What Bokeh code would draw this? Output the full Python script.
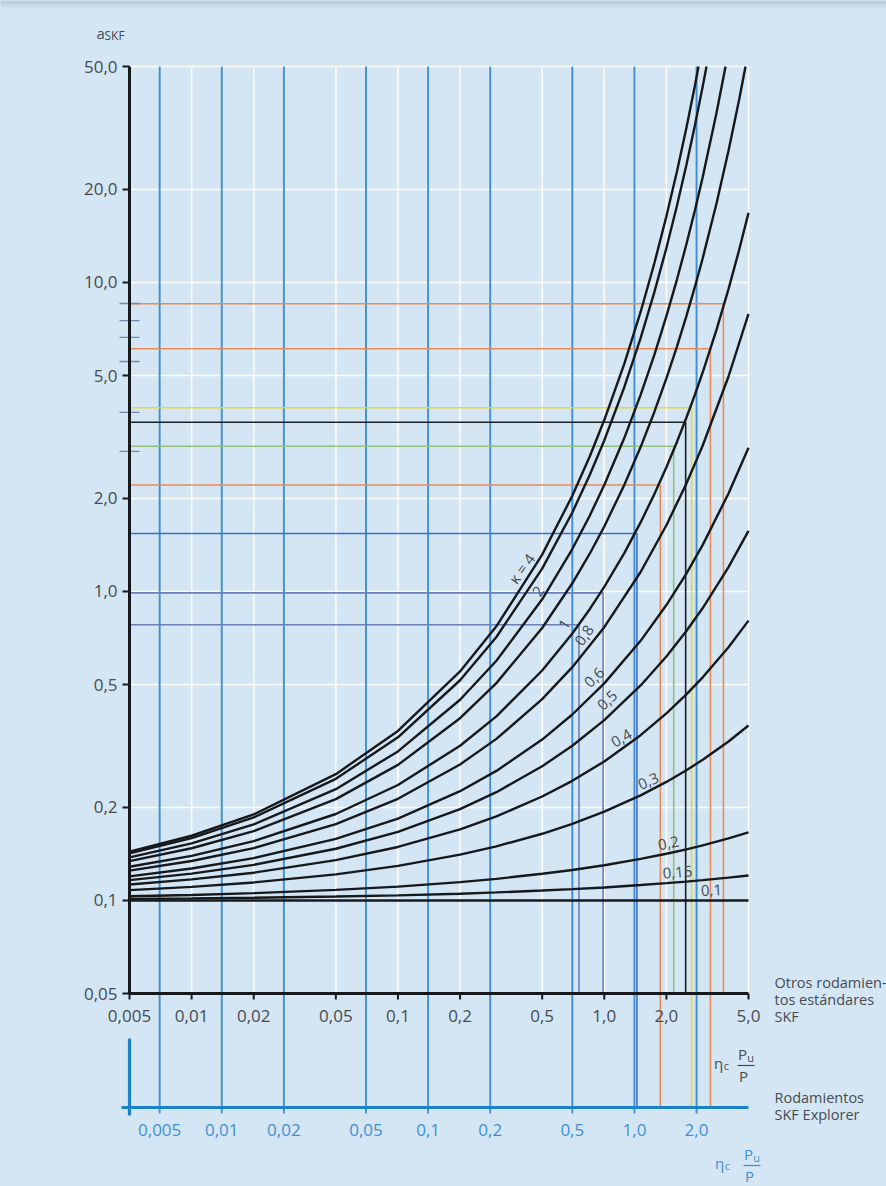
import math
from bokeh.plotting import figure
from bokeh.models import Range1d
from bokeh.embed import file_html
from bokeh.resources import INLINE
from bokeh.core.properties import value

# ---------------- data ----------------
y_ticks = [0.05, 0.1, 0.2, 0.5, 1.0, 2.0, 5.0, 10.0, 20.0, 50.0]
y_tick_labels = ["0,05", "0,1", "0,2", "0,5", "1,0", "2,0", "5,0", "10,0", "20,0", "50,0"]
x_ticks = [0.005, 0.01, 0.02, 0.05, 0.1, 0.2, 0.5, 1.0, 2.0, 5.0]
x_tick_labels = ["0,005", "0,01", "0,02", "0,05", "0,1", "0,2", "0,5", "1,0", "2,0", "5,0"]
exp_ticks = [0.005, 0.01, 0.02, 0.05, 0.1, 0.2, 0.5, 1.0, 2.0]
exp_tick_labels = ["0,005", "0,01", "0,02", "0,05", "0,1", "0,2", "0,5", "1,0", "2,0"]
exp_factor = 1.4  # SKF Explorer scale sits 1.4x to the right of the standard scale

# eta_c*Pu/P positions at which the curves were read
x_dense = [0.005, 0.01, 0.02, 0.05, 0.1, 0.2, 0.3, 0.5, 0.7, 0.85, 1.0, 1.25, 1.5, 1.75,
           2.0, 2.25, 2.5, 2.75, 3.0, 3.5, 4.0, 4.5, 5.0]
x_coarse = [0.005, 0.01, 0.02, 0.05, 0.1, 0.2, 0.3, 0.5, 0.7, 1.0, 1.5, 2.0, 2.5, 3.0, 4.0, 5.0]

# a_SKF readings, upper family (dense grid); the first four leave the chart at a_SKF = 50
a_c1 = [0.1438, 0.1620, 0.1900, 0.2563, 0.3538, 0.5511, 0.7713, 1.316, 2.041, 2.735, 3.587,
        5.450, 8.027, 11.56, 16.37, 22.87, 31.64, 43.42]
a_c2 = [0.1420, 0.1592, 0.1857, 0.2476, 0.3374, 0.5161, 0.7122, 1.186, 1.802, 2.382, 3.082,
        4.581, 6.608, 9.320, 12.93, 17.71, 24.01, 32.28, 43.12]
a_c3 = [0.1379, 0.1531, 0.1763, 0.2292, 0.3037, 0.4463, 0.5968, 0.9437, 1.372, 1.758, 2.210,
        3.137, 4.328, 5.846, 7.779, 10.22, 13.29, 17.13, 21.95, 35.44]
a_c4 = [0.1341, 0.1476, 0.1677, 0.2129, 0.2747, 0.3890, 0.5052, 0.7617, 1.063, 1.325, 1.623,
        2.211, 2.933, 3.818, 4.895, 6.201, 7.783, 9.691, 11.98, 18.04, 26.67, 38.93]
a_c5 = [0.1286, 0.1395, 0.1556, 0.1905, 0.2364, 0.3168, 0.3944, 0.5550, 0.7311, 0.8762, 1.035,
        1.331, 1.673, 2.069, 2.524, 3.048, 3.649, 4.338, 5.122, 7.042, 9.519, 12.71, 16.80]
top_exit_x = [2.862, 3.130, 3.870, 4.836]   # where c1..c4 reach a_SKF = 50

# lower family (coarse grid)
a_c6 = [0.1249, 0.1342, 0.1477, 0.1766, 0.2133, 0.2756, 0.3334, 0.4485, 0.5689, 0.7667, 1.156,
        1.638, 2.234, 2.968, 4.963, 7.909]
a_c7 = [0.1197, 0.1269, 0.1371, 0.1582, 0.1841, 0.2258, 0.2626, 0.3317, 0.3998, 0.5042, 0.6923,
        0.9037, 1.143, 1.415, 2.075, 2.920]
a_c8 = [0.1164, 0.1222, 0.1304, 0.1470, 0.1668, 0.1976, 0.2241, 0.2718, 0.3169, 0.3833, 0.4964,
        0.6160, 0.7447, 0.8838, 1.199, 1.571]
a_c9 = [0.1126, 0.1170, 0.1230, 0.1351, 0.1490, 0.1699, 0.1871, 0.2170, 0.2439, 0.2819, 0.3427,
        0.4030, 0.4644, 0.5274, 0.6604, 0.8049]
a_c10 = [0.1080, 0.1107, 0.1144, 0.1215, 0.1294, 0.1407, 0.1497, 0.1644, 0.1770, 0.1938, 0.2189,
         0.2419, 0.2639, 0.2853, 0.3270, 0.3682]
a_c11 = [0.1032, 0.1042, 0.1056, 0.1082, 0.1109, 0.1147, 0.1175, 0.1220, 0.1255, 0.1300, 0.1363,
         0.1417, 0.1464, 0.1508, 0.1588, 0.1660]
a_c12 = [0.1012, 0.1016, 0.1021, 0.1030, 0.1039, 0.1052, 0.1062, 0.1077, 0.1088, 0.1102, 0.1122,
         0.1138, 0.1151, 0.1164, 0.1186, 0.1205]
a_c13 = [0.1, 0.1, 0.1, 0.1, 0.1, 0.1, 0.1, 0.1, 0.1, 0.1, 0.1, 0.1, 0.1, 0.1, 0.1, 0.1]

curve_labels = ["\u03ba = 4", "2", "1", "0,8", "0,6", "0,5", "0,4", "0,3", "0,2", "0,15", "0,1"]

# example readings: horizontal from the a_SKF axis, then down to one of the two scales
ref_a = [8.53, 6.10, 3.93, 3.53, 2.95, 2.21, 1.54, 0.99, 0.78]
ref_x = [3.78, 3.27, 2.65, 2.48, 2.17, 1.87, 1.44, 0.987, 0.754]
ref_scale = ["std", "exp", "exp", "std", "std", "exp", "exp", "std", "std"]
axis_marks = [8.55, 7.53, 6.64, 5.55, 3.80, 2.84]

# ---------------- styles / layout ----------------
ref_colors = ["#e98b55", "#e98b55", "#e3db35", "#1b1f24", "#8fc07c", "#e98b55", "#3a6fd6", "#6a80b8", "#6a80b8"]
label_px = [(521, 568), (538, 591), (564, 624), (584, 635), (594, 677), (607, 700),
            (621, 738), (648, 781), (668, 843), (677, 872), (711, 890)]
label_angle = [54, 56, 58, 55, 45, 43, 30, 24, 12, 5, 3]

BG = "#d4e6f4"
W, H = 886, 1186
PX_L, PX_R = 129, 748      # canvas x of 0.005 and 5.0
PY_T, PY_B = 66, 993       # canvas y of 50 and 0.05
XPD = (PX_R - PX_L) / 3.0
YPD = (PY_B - PY_T) / 3.0

def xd(px):
    return 10 ** (math.log10(0.005) + (px - PX_L) / XPD)

def yd(py):
    return 10 ** (math.log10(0.05) - (py - PY_B) / YPD)

p = figure(width=W, height=H, x_axis_type="log", y_axis_type="log",
           x_range=Range1d(xd(0), xd(W)), y_range=Range1d(yd(H), yd(0)),
           x_axis_location=None, y_axis_location=None,
           output_backend="svg", toolbar_location=None, min_border=0)
p.grid.visible = False
p.outline_line_color = None
p.background_fill_color = BG
p.border_fill_color = BG

FONT = value("Open Sans")
GREY = "#464b50"
BLUE = "#3f8fd2"
AXIS_BLUE = "#1c82c8"
INK = "#16191c"
lower_y = yd(1107)

# faint shadow band along the top edge
p.quad(left=[xd(0)], right=[xd(W)], bottom=[yd(4)], top=[yd(0)], fill_color="#bfcedb", line_color=None)
p.quad(left=[xd(0)], right=[xd(W)], bottom=[yd(7)], top=[yd(4)], fill_color="#cadbe8", line_color=None)

# white grid
gx = [t for t in x_ticks if t > 0.005]
p.segment(x0=gx, y0=[0.05] * len(gx), x1=gx, y1=[50.0] * len(gx), line_color="white", line_width=1.5)
gy = [t for t in y_ticks if t > 0.05]
p.segment(x0=[0.005] * len(gy), y0=gy, x1=[5.0] * len(gy), y1=gy, line_color="white", line_width=1.5)

# blue SKF Explorer verticals
ex = [t * exp_factor for t in exp_ticks]
p.segment(x0=ex, y0=[50.0] * len(ex), x1=ex, y1=[lower_y] * len(ex), line_color=BLUE, line_width=1.9)
p.ray(x=ex, y=[lower_y] * len(ex), length=6, angle=-math.pi / 2, length_units="screen",
      line_color=BLUE, line_width=1.9)

# example reading lines
for a, x, s, c in zip(ref_a, ref_x, ref_scale, ref_colors):
    yend = 0.05 if s == "std" else lower_y
    p.line(x=[0.005, x, x], y=[a, a, yend], line_color=c, line_width=1.6)
p.scatter(x=[0.005] * len(axis_marks), y=axis_marks, marker="dash", size=20,
          line_color="#6f88b0", line_width=1.3)

# curves
upper = [a_c1, a_c2, a_c3, a_c4]
for ys, xe in zip(upper, top_exit_x):
    p.line(x=x_dense[:len(ys)] + [xe], y=ys + [50.0], line_color=INK, line_width=2.4)
p.line(x=x_dense, y=a_c5, line_color=INK, line_width=2.4)
for ys in [a_c6, a_c7, a_c8, a_c9, a_c10, a_c11, a_c12, a_c13]:
    p.line(x=x_coarse, y=ys, line_color=INK, line_width=2.4)

for t, (lx, ly), ang in zip(curve_labels, label_px, label_angle):
    p.text(x=[xd(lx)], y=[yd(ly)], text=[t], angle=math.radians(ang), text_font=FONT,
           text_font_size="15px", text_color=GREY, text_align="center", text_baseline="middle")

# upper axes
p.segment(x0=[0.005], y0=[0.05], x1=[0.005], y1=[50.0], line_color=INK, line_width=3)
p.segment(x0=[0.005], y0=[0.05], x1=[5.0], y1=[0.05], line_color=INK, line_width=3)
p.ray(x=[0.005] * len(y_ticks), y=y_ticks, length=7, angle=math.pi, length_units="screen",
      line_color=INK, line_width=2)
p.ray(x=x_ticks, y=[0.05] * len(x_ticks), length=6, angle=-math.pi / 2, length_units="screen",
      line_color=INK, line_width=2)
p.text(x=[0.005] * len(y_ticks), y=y_ticks, text=y_tick_labels, x_offset=-12, text_align="right",
       text_baseline="middle", text_font=FONT, text_font_size="17px", text_color=GREY)
p.text(x=x_ticks, y=[0.05] * len(x_ticks), text=x_tick_labels, y_offset=22, text_align="center",
       text_baseline="middle", text_font=FONT, text_font_size="17px", text_color=GREY)

# lower (SKF Explorer) axis
p.segment(x0=[xd(121)], y0=[lower_y], x1=[5.0], y1=[lower_y], line_color=AXIS_BLUE, line_width=3.2)
p.segment(x0=[0.005], y0=[yd(1038)], x1=[0.005], y1=[yd(1115)], line_color=AXIS_BLUE, line_width=3.2)
p.text(x=ex, y=[lower_y] * len(ex), text=exp_tick_labels, y_offset=22, text_align="center",
       text_baseline="middle", text_font=FONT, text_font_size="17px", text_color=BLUE)

# titles / notes
p.text(x=[xd(96)], y=[yd(32)], text=["a"], text_font=FONT, text_font_size="15px",
       text_color=GREY, text_baseline="middle")
p.text(x=[xd(104)], y=[yd(35)], text=["SKF"], text_font=FONT, text_font_size="12px",
       text_color=GREY, text_baseline="middle")

note_x = xd(774)
p.text(x=[note_x] * 3, y=[yd(982), yd(999), yd(1016)],
       text=["Otros rodamien-", "tos estándares", "SKF"], text_font=FONT, text_font_size="14.5px",
       text_color=GREY, text_baseline="middle")
p.text(x=[note_x] * 2, y=[yd(1097), yd(1114)], text=["Rodamientos", "SKF Explorer"],
       text_font=FONT, text_font_size="14.5px", text_color=GREY, text_baseline="middle")

def eta_label(px, py, gap, color):
    p.text(x=[xd(px)], y=[yd(py)], text=["\u03b7"], text_font=FONT, text_font_size="15px",
           text_color=color, text_baseline="middle", text_align="center")
    p.text(x=[xd(px + 8)], y=[yd(py + 3)], text=["c"], text_font=FONT, text_font_size="11px",
           text_color=color, text_baseline="middle", text_align="center")
    p.text(x=[xd(px + gap)], y=[yd(py - 9)], text=["P"], text_font=FONT, text_font_size="15px",
           text_color=color, text_baseline="middle", text_align="center")
    p.text(x=[xd(px + gap + 8)], y=[yd(py - 5)], text=["u"], text_font=FONT, text_font_size="11px",
           text_color=color, text_baseline="middle", text_align="center")
    p.segment(x0=[xd(px + gap - 5)], y0=[yd(py + 3)], x1=[xd(px + gap + 12)], y1=[yd(py + 3)],
              line_color=color, line_width=1.2)
    p.text(x=[xd(px + gap + 1)], y=[yd(py + 13)], text=["P"], text_font=FONT, text_font_size="15px",
           text_color=color, text_baseline="middle", text_align="center")

eta_label(718, 1062, 24, GREY)
eta_label(719, 1162, 29, BLUE)

html = file_html(p, INLINE, title="a_SKF")
html = html.replace("</head>", "<style>html,body{margin:0;padding:0;overflow:hidden;}html{background:%s;}</style></head>" % BG, 1)
open("out.html", "w").write(html)
